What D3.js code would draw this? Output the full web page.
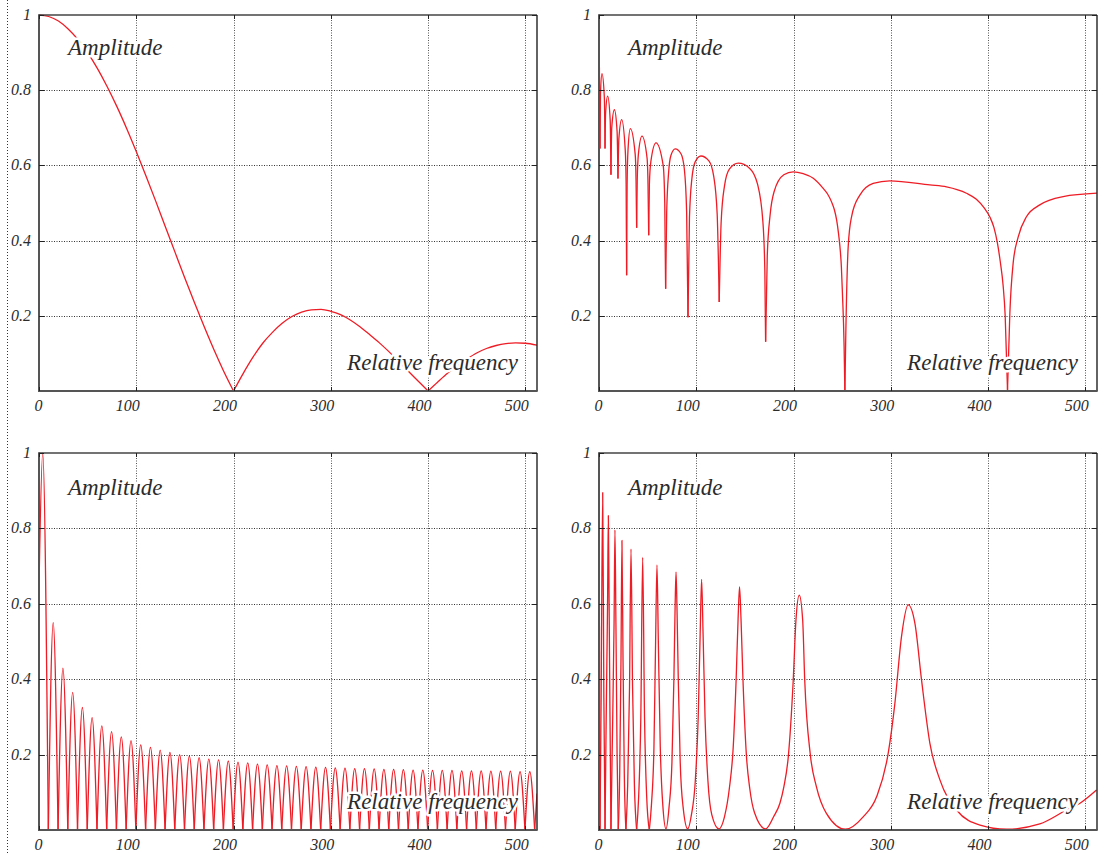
<!DOCTYPE html>
<html><head><meta charset="utf-8">
<script src="https://cdn.jsdelivr.net/npm/d3@7"></script>
<style>
body{margin:0;background:#fff}
svg{display:block}
text{font-family:"Liberation Serif",serif;font-style:italic;fill:#2b2b2b}
</style>
</head><body>
<svg id="c" width="1116" height="853"></svg>
<script>
// ---------- tick labels ----------
const xTickValues = [0, 100, 200, 300, 400, 500];
const xTickLabels = ["0", "100", "200", "300", "400", "500"];
const yTickValues = [0.2, 0.4, 0.6, 0.8, 1];
const yTickLabels = ["0.2", "0.4", "0.6", "0.8", "1"];
const labelTop = "Amplitude";
const labelBottom = "Relative frequency";

// ---------- panel 1 (top-left) ----------
const tlX = [0,10,20,30,40,50,60,70,80,90,100,110,120,130,140,150,160,170,180,190,200,
  210,220,230,240,250,260,270,280,290,300,310,320,330,340,350,360,370,380,390,400,
  410,420,430,440,450,460,470,480,490,500,512];
const tlY = [1.000,0.996,0.984,0.963,0.935,0.900,0.858,0.810,0.757,0.699,0.637,0.572,0.505,0.436,0.368,0.300,0.234,0.170,0.109,0.052,0.000,
  0.047,0.090,0.127,0.156,0.180,0.198,0.210,0.216,0.217,0.212,0.203,0.189,0.171,0.150,0.128,0.104,0.078,0.052,0.026,0.000,
  0.024,0.047,0.067,0.085,0.101,0.113,0.121,0.126,0.128,0.127,0.122];
const tlCusps = [200, 400];

// ---------- panel 2 (top-right) ----------
const trX = [0,1.0,1.5,3.1,5.5,6.2,6.8,8.9,11.5,12.3,13.1,15.8,18.6,19.5,20.4,23.3,27.0,27.9,28.4,
  28.9,29.8,32.2,37.2,38.1,38.7,39.3,40.5,44.2,49.4,50.4,51.1,51.8,53.3,58.6,66.0,67.6,68.5,
  69.6,71.6,74.0,78.4,84.3,87.7,90.1,91.5,93.0,95.5,99.0,104.8,113.0,118.0,121.5,123.6,
  125.6,129.0,134.0,143.2,155.0,163.0,168.5,170.5,171.3,
  173.0,176.0,180.0,190.0,199.7,210.0,220.3,230.5,235.0,239.1,242.0,244.3,246.2,247.7,249.2,250.4,251.4,252.0,252.8,
  253.8,256.2,259.7,268.2,281.9,299.0,340.2,357.3,377.8,388.0,396.0,402.0,406.0,409.5,412.5,415.5,417.6,420.0,
  422.4,425.8,431.0,439.6,453.2,477.2,512.0];
const trY = [1.0,0.645,0.79,0.844,0.78,0.645,0.74,0.784,0.72,0.575,0.70,0.748,0.69,0.565,0.67,0.722,0.64,0.55,0.308,
  0.55,0.64,0.698,0.63,0.56,0.434,0.56,0.63,0.678,0.62,0.55,0.414,0.55,0.61,0.660,0.60,0.50,0.272,
  0.476,0.582,0.627,0.644,0.631,0.591,0.476,0.196,0.46,0.565,0.61,0.625,0.612,0.57,0.47,0.237,
  0.45,0.545,0.59,0.606,0.592,0.55,0.45,0.32,0.131,
  0.36,0.47,0.53,0.575,0.583,0.578,0.566,0.539,0.524,0.503,0.482,0.455,0.420,0.384,0.330,0.251,0.180,0.118,0.0,
  0.16,0.384,0.464,0.521,0.552,0.559,0.548,0.543,0.526,0.510,0.487,0.462,0.435,0.395,0.345,0.280,0.200,0.003,
  0.207,0.340,0.410,0.464,0.495,0.517,0.526];
const trCusps = [1.0,6.2,12.3,19.5,28.4,38.7,51.1,68.5,91.5,123.6,171.3,252.8,420.0];

// ---------- panel 3 (bottom-left) ----------
const blStart = [0, 0.645];
const blEnd = [512, 0.097];
const blPeakX = [3.8,14.6,24.6,34.6,44.6,54.6,64.6,74.6,84.6,94.6,104.6,114.6,124.6,134.6,144.6,154.6,164.6,174.6,184.6,194.6,
  204.6,214.6,224.6,234.6,244.6,254.6,264.6,274.6,284.6,294.6,304.6,314.6,324.6,334.6,344.6,354.6,364.6,374.6,384.6,394.6,
  404.6,414.6,424.6,434.6,444.6,454.6,464.6,474.6,484.6,494.6,504.6];
const blPeakY = [1.0,0.55,0.429,0.365,0.325,0.298,0.276,0.261,0.247,0.237,0.226,0.219,0.212,0.206,0.200,0.196,0.192,0.188,0.186,0.183,
  0.180,0.178,0.175,0.173,0.171,0.170,0.169,0.168,0.167,0.166,0.165,0.164,0.163,0.163,0.162,0.161,0.161,0.160,0.159,0.159,
  0.158,0.158,0.158,0.157,0.157,0.157,0.156,0.156,0.156,0.155,0.155];
const blZeroX = [9.6,19.6,29.6,39.6,49.6,59.6,69.6,79.6,89.6,99.6,109.6,119.6,129.6,139.6,149.6,159.6,169.6,179.6,189.6,199.6,
  209.6,219.6,229.6,239.6,249.6,259.6,269.6,279.6,289.6,299.6,309.6,319.6,329.6,339.6,349.6,359.6,369.6,379.6,389.6,399.6,
  409.6,419.6,429.6,439.6,449.6,459.6,469.6,479.6,489.6,499.6,509.6];

// ---------- panel 4 (bottom-right) ----------
const brX = [0,1.0,2.2,3.8,5.0,6.2,7.4,8.8,9.6,10.4,11.3,12.3,13.5,15.5,16.4,17.4,18.6,19.8,21.3,22.6,23.6,24.7,26.0,27.7,
  29.5,31.4,32.9,34.5,36.4,38.7,40.8,43.0,44.9,46.8,49.0,51.7,54.0,56.5,58.2,59.6,61.0,63.0,65.5,68.9,
  72.0,75.0,77.0,78.3,79.2,80.1,81.5,83.5,86.5,91.2,95.0,99.0,102.0,104.0,105.5,107.0,109.0,112.0,116.0,123.3,
  129.0,134.0,138.0,141.0,143.0,144.5,146.0,148.0,151.5,155.0,160.0,171.3,
  179.5,186.0,190.1,194.6,199.7,202.5,205.9,209.4,211.5,217.3,223.5,233.8,253.3,
  271.6,285.4,297.3,304.2,311.0,317.9,324.8,331.6,340.2,350.5,367.6,391.8,419.0,453.2,480.7,494.5,511.5];
const brY = [1.0,0.0,0.35,0.895,0.35,0.0,0.30,0.60,0.834,0.60,0.30,0.0,0.20,0.55,0.796,0.55,0.20,0.0,0.15,0.45,0.768,0.45,0.15,0.0,
  0.12,0.38,0.745,0.38,0.12,0.0,0.09,0.30,0.723,0.30,0.09,0.0,0.07,0.22,0.50,0.703,0.50,0.22,0.07,0.003,
  0.06,0.18,0.40,0.60,0.684,0.60,0.40,0.18,0.06,0.003,0.04,0.13,0.30,0.52,0.665,0.52,0.30,0.13,0.04,0.003,
  0.035,0.11,0.22,0.40,0.56,0.645,0.56,0.40,0.20,0.11,0.045,0.003,
  0.035,0.071,0.115,0.194,0.398,0.557,0.623,0.557,0.398,0.199,0.115,0.044,0.002,
  0.035,0.088,0.203,0.336,0.513,0.597,0.548,0.398,0.23,0.133,0.053,0.013,0.002,0.016,0.053,0.071,0.106];
const brCusps = [1.0,6.2,12.3,19.8,27.7,38.7,51.7];

// ---------- build point lists ----------
function zipPts(xs, ys){ return xs.map((x,i)=>[x, ys[i]]); }
const blPts = [blStart];
blPeakX.forEach((x,i)=>{ blPts.push([x, blPeakY[i]]); blPts.push([blZeroX[i], 0]); });
blPts.push(blEnd);

const panels = [
  {x0:39, x1:537, y0:15, y1:391, pts: zipPts(tlX, tlY), cusps: tlCusps, ly: 40},
  {x0:599, x1:1097, y0:15, y1:391, pts: zipPts(trX, trY), cusps: trCusps, ly: 40},
  {x0:39, x1:537, y0:453, y1:830, pts: blPts, cusps: blZeroX, ly: 42},
  {x0:599, x1:1097, y0:453, y1:830, pts: zipPts(brX, brY), cusps: brCusps, ly: 42}
];

function splitAtCusps(pts, cusps){
  const set = new Set(cusps.map(c=>c.toFixed(3)));
  const segs = []; let cur = [];
  pts.forEach(p=>{
    cur.push(p);
    if (set.has(p[0].toFixed(3)) && cur.length > 1){ segs.push(cur); cur = [p]; }
  });
  if (cur.length > 1) segs.push(cur);
  return segs;
}

const svg = d3.select("#c");
// outer dotted margin line
svg.append("line").attr("x1",7.5).attr("x2",7.5).attr("y1",0).attr("y2",853)
  .attr("stroke","#333").attr("stroke-width",1).attr("stroke-dasharray","1,2");

panels.forEach((P, idx)=>{
  const x = d3.scaleLinear().domain([0,512]).range([P.x0, P.x1]);
  const y = d3.scaleLinear().domain([0,1]).range([P.y1, P.y0]);
  const g = svg.append("g");
  const cid = "clip" + idx;
  g.append("clipPath").attr("id", cid).append("rect")
    .attr("x", P.x0).attr("y", P.y0 - 1).attr("width", P.x1 - P.x0).attr("height", P.y1 - P.y0 + 1);

  // grid
  g.selectAll(".vg").data(xTickValues.filter(v=>v>0)).join("line")
    .attr("x1", d=>Math.round(x(d))+0.5).attr("x2", d=>Math.round(x(d))+0.5)
    .attr("y1", P.y0).attr("y2", P.y1)
    .attr("stroke","#555").attr("stroke-width",1).attr("stroke-dasharray","1,1.5");
  g.selectAll(".hg").data(yTickValues.filter(v=>v<1)).join("line")
    .attr("y1", d=>Math.round(y(d))+0.5).attr("y2", d=>Math.round(y(d))+0.5)
    .attr("x1", P.x0).attr("x2", P.x1)
    .attr("stroke","#333").attr("stroke-width",1).attr("stroke-dasharray","1,1.5");

  // curve
  const line = d3.line().x(d=>x(d[0])).y(d=>y(d[1])).curve(d3.curveMonotoneX);
  const segs = splitAtCusps(P.pts, P.cusps);
  const cg = g.append("g").attr("clip-path", `url(#${cid})`);
  cg.selectAll("path").data(segs).join("path")
    .attr("d", line).attr("fill","none").attr("stroke","#ee1c25")
    .attr("stroke-width",1.3).attr("stroke-linejoin","round");

  // frame
  g.append("line").attr("x1",P.x0).attr("x2",P.x1).attr("y1",P.y0).attr("y2",P.y0)
    .attr("stroke","#444").attr("stroke-width",1.4);
  g.append("line").attr("x1",P.x1).attr("x2",P.x1).attr("y1",P.y0).attr("y2",P.y1)
    .attr("stroke","#222").attr("stroke-width",1.4);
  g.append("line").attr("x1",P.x0).attr("x2",P.x0).attr("y1",P.y0-0.7).attr("y2",P.y1+1)
    .attr("stroke","#555").attr("stroke-width",2);
  g.append("line").attr("x1",P.x0-1).attr("x2",P.x1+0.7).attr("y1",P.y1).attr("y2",P.y1)
    .attr("stroke","#555").attr("stroke-width",2);

  // inward ticks
  xTickValues.forEach(v=>{
    const xx = Math.round(x(v))+0.5;
    g.append("line").attr("x1",xx).attr("x2",xx).attr("y1",P.y1).attr("y2",P.y1-4).attr("stroke","#222");
    g.append("line").attr("x1",xx).attr("x2",xx).attr("y1",P.y0).attr("y2",P.y0+4).attr("stroke","#222");
  });
  yTickValues.forEach(v=>{
    const yy = Math.round(y(v))+0.5;
    g.append("line").attr("y1",yy).attr("y2",yy).attr("x1",P.x0).attr("x2",P.x0+5).attr("stroke","#222");
    g.append("line").attr("y1",yy).attr("y2",yy).attr("x1",P.x1).attr("x2",P.x1-5).attr("stroke","#222");
  });

  // tick labels
  g.selectAll(".xl").data(xTickValues).join("text")
    .attr("x", d=>x(d)+3.5).attr("y", P.y1+19.5).attr("text-anchor","end")
    .attr("font-size",16).text((d,i)=>xTickLabels[i]);
  g.selectAll(".yl").data(yTickValues).join("text")
    .attr("x", P.x0-8).attr("y", d=>y(d)+5).attr("text-anchor","end")
    .attr("font-size",16).text((d,i)=>yTickLabels[i]);

  // in-plot labels with halo
  g.append("text").attr("x", P.x0+29).attr("y", P.y0+P.ly)
    .attr("font-size",23).attr("stroke","#fff").attr("stroke-width",5)
    .attr("stroke-linejoin","round").attr("paint-order","stroke").text(labelTop);
  g.append("text").attr("x", P.x1-19).attr("y", P.y1-21).attr("text-anchor","end")
    .attr("font-size",23).attr("stroke","#fff").attr("stroke-width",5)
    .attr("stroke-linejoin","round").attr("paint-order","stroke").text(labelBottom);
});
</script>
</body></html>
